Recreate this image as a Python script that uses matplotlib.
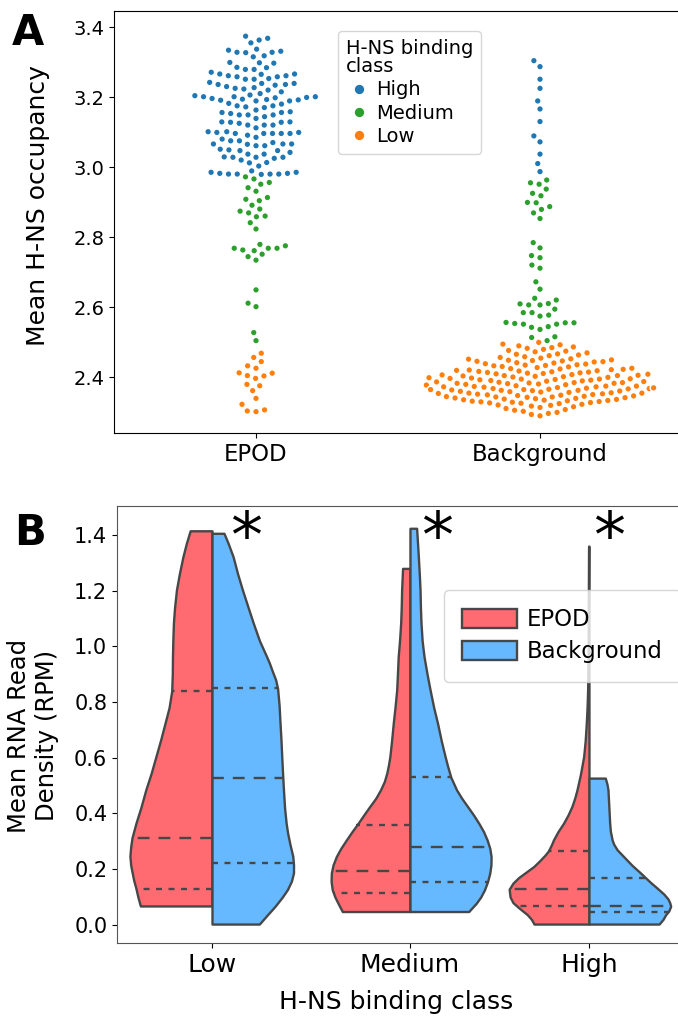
import numpy as np
import pandas as pd
import matplotlib
matplotlib.use("Agg")
import matplotlib.pyplot as plt
import seaborn as sns
from matplotlib.lines import Line2D
from matplotlib.patches import Patch

plt.rcParams["font.family"] = ["DejaVu Sans"]
plt.rcParams["lines.scale_dashes"] = False

# ---------------- panel A data: mean H-NS occupancy per region ----------------
groups_a = ["EPOD", "Background"]
classes_a = ["High", "Medium", "Low"]

epod_high = [
    3.363, 3.355, 3.368, 3.374,
    3.331, 3.328, 3.337, 3.327, 3.328, 3.334,
    3.315, 3.318,
    3.299, 3.298, 3.297,
    3.285, 3.279, 3.279, 3.284,
    3.266, 3.265, 3.258, 3.251, 3.261, 3.251, 3.258, 3.271, 3.253, 3.261, 3.266,
    3.239, 3.230, 3.223, 3.236, 3.227, 3.234, 3.239, 3.220, 3.225, 3.236, 3.242,
    3.210, 3.204, 3.215,
    3.201, 3.199, 3.194, 3.191, 3.193, 3.206, 3.201, 3.198, 3.192, 3.196, 3.201,
    3.175, 3.170, 3.182, 3.180, 3.189, 3.172, 3.189, 3.175,
    3.158, 3.149, 3.149, 3.139, 3.156, 3.153, 3.163, 3.144, 3.156, 3.149,
    3.128, 3.120, 3.112, 3.128, 3.120, 3.120, 3.125, 3.129, 3.129,
    3.101, 3.099, 3.096, 3.096, 3.091, 3.096, 3.096, 3.101, 3.096, 3.099,
    3.066, 3.065, 3.075, 3.070, 3.061, 3.061, 3.066, 3.075, 3.080, 3.085, 3.066,
    3.049, 3.047, 3.037, 3.042, 3.047, 3.051,
    3.029, 3.028, 3.028, 3.037, 3.025, 3.013, 3.020, 3.028, 3.012, 3.003,
    2.985, 2.982, 2.980, 2.980, 2.979, 2.980, 2.980, 2.982, 2.985, 2.989,
]
epod_medium = [
    2.972, 2.966, 2.951, 2.956, 2.941, 2.931, 2.913, 2.904, 2.908, 2.891,
    2.880, 2.869, 2.874, 2.858, 2.860, 2.841, 2.823,
    2.768, 2.763, 2.761, 2.779, 2.768, 2.768, 2.775, 2.744, 2.734, 2.751,
    2.649, 2.611, 2.601, 2.527, 2.504,
]
epod_low = [
    2.456, 2.468, 2.432, 2.444, 2.425, 2.411, 2.403, 2.396, 2.404, 2.412,
    2.375, 2.379, 2.361, 2.339, 2.322, 2.303, 2.301, 2.306,
]
bg_high = [3.304, 3.287, 3.251, 3.225, 3.189, 3.166, 3.130, 3.089, 3.072,
           3.037, 3.010, 2.987]
bg_medium = [
    2.955, 2.951, 2.963, 2.937, 2.925, 2.918, 2.899, 2.898, 2.887, 2.879,
    2.869, 2.853,
    2.784, 2.769, 2.747, 2.741, 2.720, 2.711, 2.672, 2.651,
    2.625, 2.609, 2.606, 2.606, 2.610, 2.620, 2.584, 2.584, 2.574, 2.577,
    2.594, 2.556, 2.553, 2.551, 2.542, 2.536, 2.544, 2.551, 2.555, 2.555,
    2.515, 2.513, 2.504,
]
bg_low = [
    2.499,
    2.486, 2.489, 2.492, 2.494,
    2.476, 2.479, 2.482, 2.484,
    2.466, 2.469, 2.472, 2.474,
    2.456, 2.458, 2.461, 2.463, 2.465,
    2.445, 2.446, 2.447, 2.448, 2.449, 2.451, 2.452, 2.454,
    2.435, 2.437, 2.438, 2.440, 2.441, 2.443, 2.444,
    2.425, 2.427, 2.429, 2.430, 2.432, 2.433, 2.434,
    2.415, 2.416, 2.417, 2.418, 2.419, 2.420, 2.421, 2.422, 2.423, 2.424,
    2.405, 2.406, 2.407, 2.408, 2.409, 2.410, 2.411, 2.412, 2.413, 2.414,
    2.395, 2.396, 2.397, 2.398, 2.399, 2.400, 2.401, 2.402, 2.403, 2.404, 2.404,
    2.385, 2.386, 2.387, 2.388, 2.389, 2.390, 2.391, 2.392, 2.393, 2.394, 2.394,
    2.375, 2.376, 2.377, 2.378, 2.379, 2.380, 2.381, 2.382, 2.382, 2.383, 2.384, 2.384,
    2.365, 2.366, 2.367, 2.367, 2.368, 2.369, 2.370, 2.371, 2.372, 2.372, 2.373, 2.374, 2.374,
    2.355, 2.356, 2.357, 2.358, 2.359, 2.360, 2.361, 2.362, 2.362, 2.363, 2.364, 2.364,
    2.345, 2.346, 2.347, 2.348, 2.349, 2.350, 2.351, 2.352, 2.353, 2.354, 2.354,
    2.335, 2.336, 2.337, 2.338, 2.339, 2.340, 2.341, 2.342, 2.343, 2.343, 2.344,
    2.325, 2.326, 2.327, 2.328, 2.329, 2.330, 2.331, 2.332, 2.333, 2.334,
    2.315, 2.317, 2.319, 2.320, 2.322, 2.324,
    2.305, 2.307, 2.310, 2.313,
    2.296, 2.299, 2.302,
    2.289, 2.293,
]

# ---------------- panel B data: violin outlines ----------------
classes_b = ["Low", "Medium", "High"]
# (value levels, half widths) per class, EPOD half on the left, Background on the right
epod_v = [
    [0.068, 0.10, 0.13, 0.16, 0.187, 0.215, 0.247, 0.28, 0.313, 0.366, 0.42, 0.486, 0.545,
     0.605, 0.665, 0.725, 0.78, 0.84, 0.90, 0.964, 1.024, 1.084, 1.14, 1.203, 1.26, 1.322,
     1.37, 1.415],
    [0.048, 0.078, 0.10, 0.126, 0.155, 0.186, 0.215, 0.245, 0.275, 0.305, 0.335, 0.365,
     0.395, 0.425, 0.455, 0.485, 0.515, 0.545, 0.575, 0.604, 0.66, 0.724, 0.78, 0.843,
     0.90, 0.963, 1.02, 1.083, 1.14, 1.202, 1.28],
    [0.003, 0.02, 0.037, 0.059, 0.08, 0.10, 0.128, 0.15, 0.17, 0.19, 0.21, 0.23, 0.25,
     0.266, 0.29, 0.305, 0.335, 0.365, 0.395, 0.425, 0.455, 0.485, 0.54, 0.604, 0.66,
     0.724, 0.78, 0.843, 1.0, 1.2, 1.36],
]
epod_w = [
    [0.377, 0.39, 0.40, 0.412, 0.42, 0.428, 0.432, 0.428, 0.421, 0.40, 0.375, 0.348, 0.32,
     0.295, 0.27, 0.247, 0.226, 0.212, 0.209, 0.208, 0.206, 0.203, 0.197, 0.187, 0.172,
     0.153, 0.135, 0.115],
    [0.356, 0.379, 0.395, 0.409, 0.415, 0.414, 0.405, 0.388, 0.364, 0.335, 0.305, 0.273,
     0.243, 0.212, 0.18, 0.155, 0.135, 0.122, 0.113, 0.106, 0.097, 0.088, 0.079, 0.07,
     0.066, 0.062, 0.055, 0.049, 0.046, 0.044, 0.039],
    [0.289, 0.303, 0.325, 0.365, 0.40, 0.415, 0.42, 0.40, 0.37, 0.33, 0.29, 0.26, 0.232,
     0.213, 0.196, 0.187, 0.163, 0.134, 0.11, 0.09, 0.075, 0.063, 0.045, 0.028, 0.02,
     0.014, 0.01, 0.007, 0.004, 0.003, 0.002],
]
bg_v = [
    [0.003, 0.035, 0.067, 0.10, 0.127, 0.157, 0.187, 0.217, 0.247, 0.29, 0.33, 0.366,
     0.42, 0.486, 0.55, 0.605, 0.665, 0.725, 0.79, 0.85, 0.88, 0.91, 0.94, 0.964, 1.02,
     1.084, 1.14, 1.203, 1.26, 1.322, 1.37, 1.406],
    [0.048, 0.078, 0.10, 0.126, 0.155, 0.186, 0.215, 0.245, 0.275, 0.305, 0.335, 0.365,
     0.395, 0.425, 0.455, 0.485, 0.53, 0.57, 0.604, 0.66, 0.724, 0.78, 0.843, 0.90,
     0.963, 1.02, 1.083, 1.14, 1.202, 1.26, 1.322, 1.424],
    [0.003, 0.02, 0.037, 0.05, 0.067, 0.08, 0.093, 0.11, 0.126, 0.155, 0.186, 0.215,
     0.245, 0.27, 0.29, 0.305, 0.335, 0.365, 0.42, 0.485, 0.505, 0.527],
]
bg_w = [
    [0.249, 0.29, 0.332, 0.37, 0.397, 0.418, 0.429, 0.429, 0.425, 0.41, 0.398, 0.39,
     0.382, 0.376, 0.371, 0.367, 0.363, 0.358, 0.353, 0.345, 0.335, 0.318, 0.302, 0.287,
     0.25, 0.217, 0.19, 0.16, 0.135, 0.111, 0.085, 0.063],
    [0.309, 0.349, 0.372, 0.392, 0.408, 0.42, 0.426, 0.427, 0.42, 0.406, 0.387, 0.362,
     0.334, 0.303, 0.272, 0.245, 0.215, 0.198, 0.185, 0.165, 0.145, 0.125, 0.106, 0.09,
     0.074, 0.064, 0.058, 0.055, 0.053, 0.049, 0.044, 0.035],
    [0.369, 0.39, 0.404, 0.42, 0.43, 0.425, 0.416, 0.395, 0.369, 0.32, 0.272, 0.225,
     0.183, 0.148, 0.13, 0.122, 0.113, 0.109, 0.105, 0.10, 0.095, 0.086],
]
# lower quartile, median, upper quartile
epod_q = [[0.128, 0.313, 0.839], [0.116, 0.195, 0.357], [0.069, 0.128, 0.266]]
bg_q = [[0.224, 0.527, 0.852], [0.154, 0.279, 0.530], [0.048, 0.069, 0.167]]

# ---------------- styling ----------------
pal_a = {"High": "#1f77b4", "Medium": "#2ca02c", "Low": "#ff7f0e"}
col_epod = "#ff6b70"
col_bg = "#66b8ff"
edge = "#474747"
class_pos = [0.0, 1.042, 1.984]
star_dx = [0.18, 0.14, 0.105]

W, H = 678, 1030
fig = plt.figure(figsize=(W / 100, H / 100), dpi=100)


def px_axes(l, t, r, b):
    return fig.add_axes([l / W, 1 - b / H, (r - l) / W, (b - t) / H])


# ---------------- panel A ----------------
ax1 = px_axes(114, 11, 682, 433)
rows = []
for grp, parts in zip(groups_a, [(epod_high, epod_medium, epod_low),
                                 (bg_high, bg_medium, bg_low)]):
    for cls, vals in zip(classes_a, parts):
        for v in vals:
            rows.append((grp, cls, v))
df = pd.DataFrame(rows, columns=["group", "cls", "occ"])

ax1.set_xlim(-0.5, 1.5)
ax1.set_ylim(2.24, 3.446)
sns.swarmplot(data=df, x="group", y="occ", hue="cls", order=groups_a,
              hue_order=classes_a, palette=pal_a, size=4.9, linewidth=1.1,
              edgecolor="white", legend=False, ax=ax1, warn_thresh=1.0)
ax1.set_xlim(-0.5, 1.5)
ax1.set_ylim(2.24, 3.446)
ax1.set_yticks([2.4, 2.6, 2.8, 3.0, 3.2, 3.4])
ax1.tick_params(axis="y", labelsize=14)
ax1.tick_params(axis="x", labelsize=16.4)
ax1.set_xlabel("")
ax1.set_ylabel("Mean H-NS occupancy", fontsize=18)
ax1.yaxis.set_label_coords(-0.113, 0.54)

handles_a = [Line2D([], [], marker="o", ls="", color=pal_a[c], markersize=6.7,
                    markeredgewidth=0, label=c) for c in classes_a]
leg_a = ax1.legend(handles=handles_a, title="H-NS binding\nclass", fontsize=14,
                   title_fontsize=14, loc="upper left",
                   bbox_to_anchor=(338 / W, 1 - 31 / H), bbox_transform=fig.transFigure,
                   borderaxespad=0, handlelength=1.4, handletextpad=0.15,
                   labelspacing=0.22, borderpad=0.4)
leg_a._legend_box.align = "left"
leg_a.get_title().set_linespacing(0.95)

# ---------------- panel B ----------------
ax2 = px_axes(117, 506, 687, 943)
for i, pos in enumerate(class_pos):
    ax2.fill_betweenx(epod_v[i], pos - np.array(epod_w[i]), pos,
                      facecolor=col_epod, edgecolor=edge, linewidth=1.7, zorder=2)
    ax2.fill_betweenx(bg_v[i], pos, pos + np.array(bg_w[i]),
                      facecolor=col_bg, edgecolor=edge, linewidth=1.7, zorder=2)
    for vv, ww, qs, sign in [(epod_v[i], epod_w[i], epod_q[i], -1),
                             (bg_v[i], bg_w[i], bg_q[i], 1)]:
        for k, q in enumerate(qs):
            half = np.interp(q, vv, ww)
            dashes = (8.5, 6.5) if k == 1 else (4.3, 4.7)
            ax2.plot([pos, pos + sign * half], [q, q], color=edge, lw=1.7,
                     dashes=dashes, solid_capstyle="butt", dash_capstyle="butt",
                     zorder=3)
    ax2.text(pos + star_dx[i], 1.387, "*", fontsize=46, ha="center", va="center",
             color="black", zorder=4)

ax2.set_xlim(-0.5, 2.5)
ax2.set_ylim(-0.065, 1.504)
ax2.set_xticks(class_pos)
ax2.set_xticklabels(classes_b)
ax2.set_yticks([0.0, 0.2, 0.4, 0.6, 0.8, 1.0, 1.2, 1.4])
ax2.tick_params(axis="y", labelsize=15)
ax2.tick_params(axis="x", labelsize=18)
for sp in ax2.spines.values():
    sp.set_color("#555555")
ax2.set_ylabel("Mean RNA Read\nDensity (RPM)", fontsize=17.5)
ax2.yaxis.set_label_coords(-0.102, 0.474)
ax2.set_xlabel("H-NS binding class", fontsize=18)
ax2.xaxis.set_label_coords(0.49, -0.108)

handles_b = [Patch(facecolor=col_epod, edgecolor=edge, linewidth=1.7, label="EPOD"),
             Patch(facecolor=col_bg, edgecolor=edge, linewidth=1.7, label="Background")]
ax2.legend(handles=handles_b, fontsize=16.4, loc="upper left",
           bbox_to_anchor=(444 / W, 1 - 590 / H), bbox_transform=fig.transFigure,
           borderaxespad=0, handlelength=2.4, handleheight=0.9,
           handletextpad=0.42, labelspacing=0.4, borderpad=0.8)

# panel letters
fig.text(12 / W, 1 - 45 / H, "A", fontsize=30, fontweight="bold", va="baseline")
fig.text(14 / W, 1 - 545 / H, "B", fontsize=30, fontweight="bold", va="baseline")

fig.savefig("out.png", dpi=100)
